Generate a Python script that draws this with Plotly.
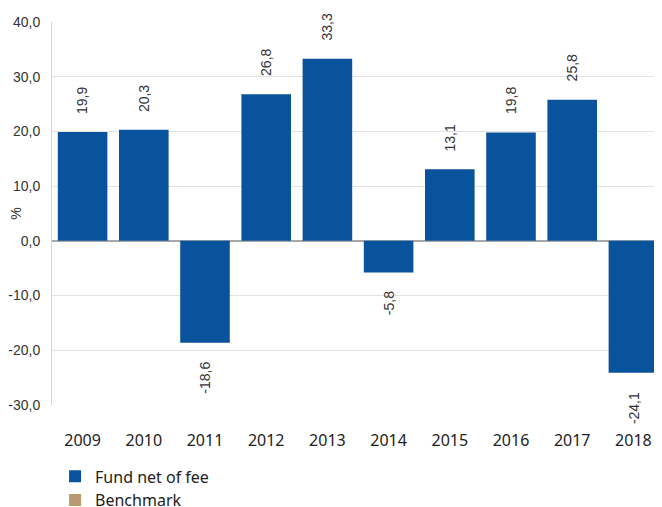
import plotly.graph_objects as go

years = ["2009", "2010", "2011", "2012", "2013", "2014", "2015", "2016", "2017", "2018"]
fund = [19.9, 20.3, -18.6, 26.8, 33.3, -5.8, 13.1, 19.8, 25.8, -24.1]
benchmark = [None] * len(years)
y_ticks = [-30, -20, -10, 0, 10, 20, 30, 40]

def fmt(v):
    return f"{v:.1f}".replace(".", ",")

fig = go.Figure()
fig.add_trace(go.Bar(x=years, y=fund, name="Fund net of fee",
                     marker=dict(color="#08539C", line=dict(width=0))))
fig.add_trace(go.Bar(x=years, y=benchmark, name="Benchmark",
                     marker=dict(color="#B99A6E", line=dict(width=0))))

# category axis position = index of the category
for i, v in enumerate(fund):
    fig.add_annotation(x=i, y=v, xref="x", yref="y", text=fmt(v), textangle=-90, showarrow=False,
                       yanchor="bottom" if v >= 0 else "top",
                       yshift=16 if v >= 0 else -17,
                       font=dict(family="Liberation Sans, Arial", size=14, color="#333333"))

fig.update_layout(
    width=662, height=507,
    margin=dict(l=44, r=6, t=14, b=110, autoexpand=False),
    paper_bgcolor="white", plot_bgcolor="white",
    barmode="overlay", bargap=0.19,
    showlegend=True,
    legend=dict(x=0.005, xanchor="left", y=-0.142, yanchor="top",
                font=dict(family="Noto Sans", size=16, color="#222222"),
                tracegroupgap=0, itemclick=False),
    xaxis=dict(type="category", categoryorder="array", categoryarray=years,
               range=[-0.5, len(years) - 0.5], automargin=False,
               showgrid=False, showline=False, zeroline=False,
               ticks="", tickfont=dict(family="Noto Sans", size=16, color="#222222"),
               ticklabelstandoff=24),
    yaxis=dict(range=[-30, 40], tickvals=y_ticks, ticktext=[fmt(t) for t in y_ticks],
               automargin=False,
               showgrid=True, gridcolor="#e3e3e3", gridwidth=1,
               zeroline=True, zerolinecolor="#a8a8a8", zerolinewidth=1.5,
               showline=True, linecolor="#d6d6d6", linewidth=1,
               ticks="", ticklabelstandoff=8,
               tickfont=dict(family="Liberation Sans, Arial", size=14, color="#333333"),
               title=dict(text="%", standoff=0,
                          font=dict(family="Liberation Sans, Arial", size=14, color="#333333"))),
)

fig.write_html("out.html")
